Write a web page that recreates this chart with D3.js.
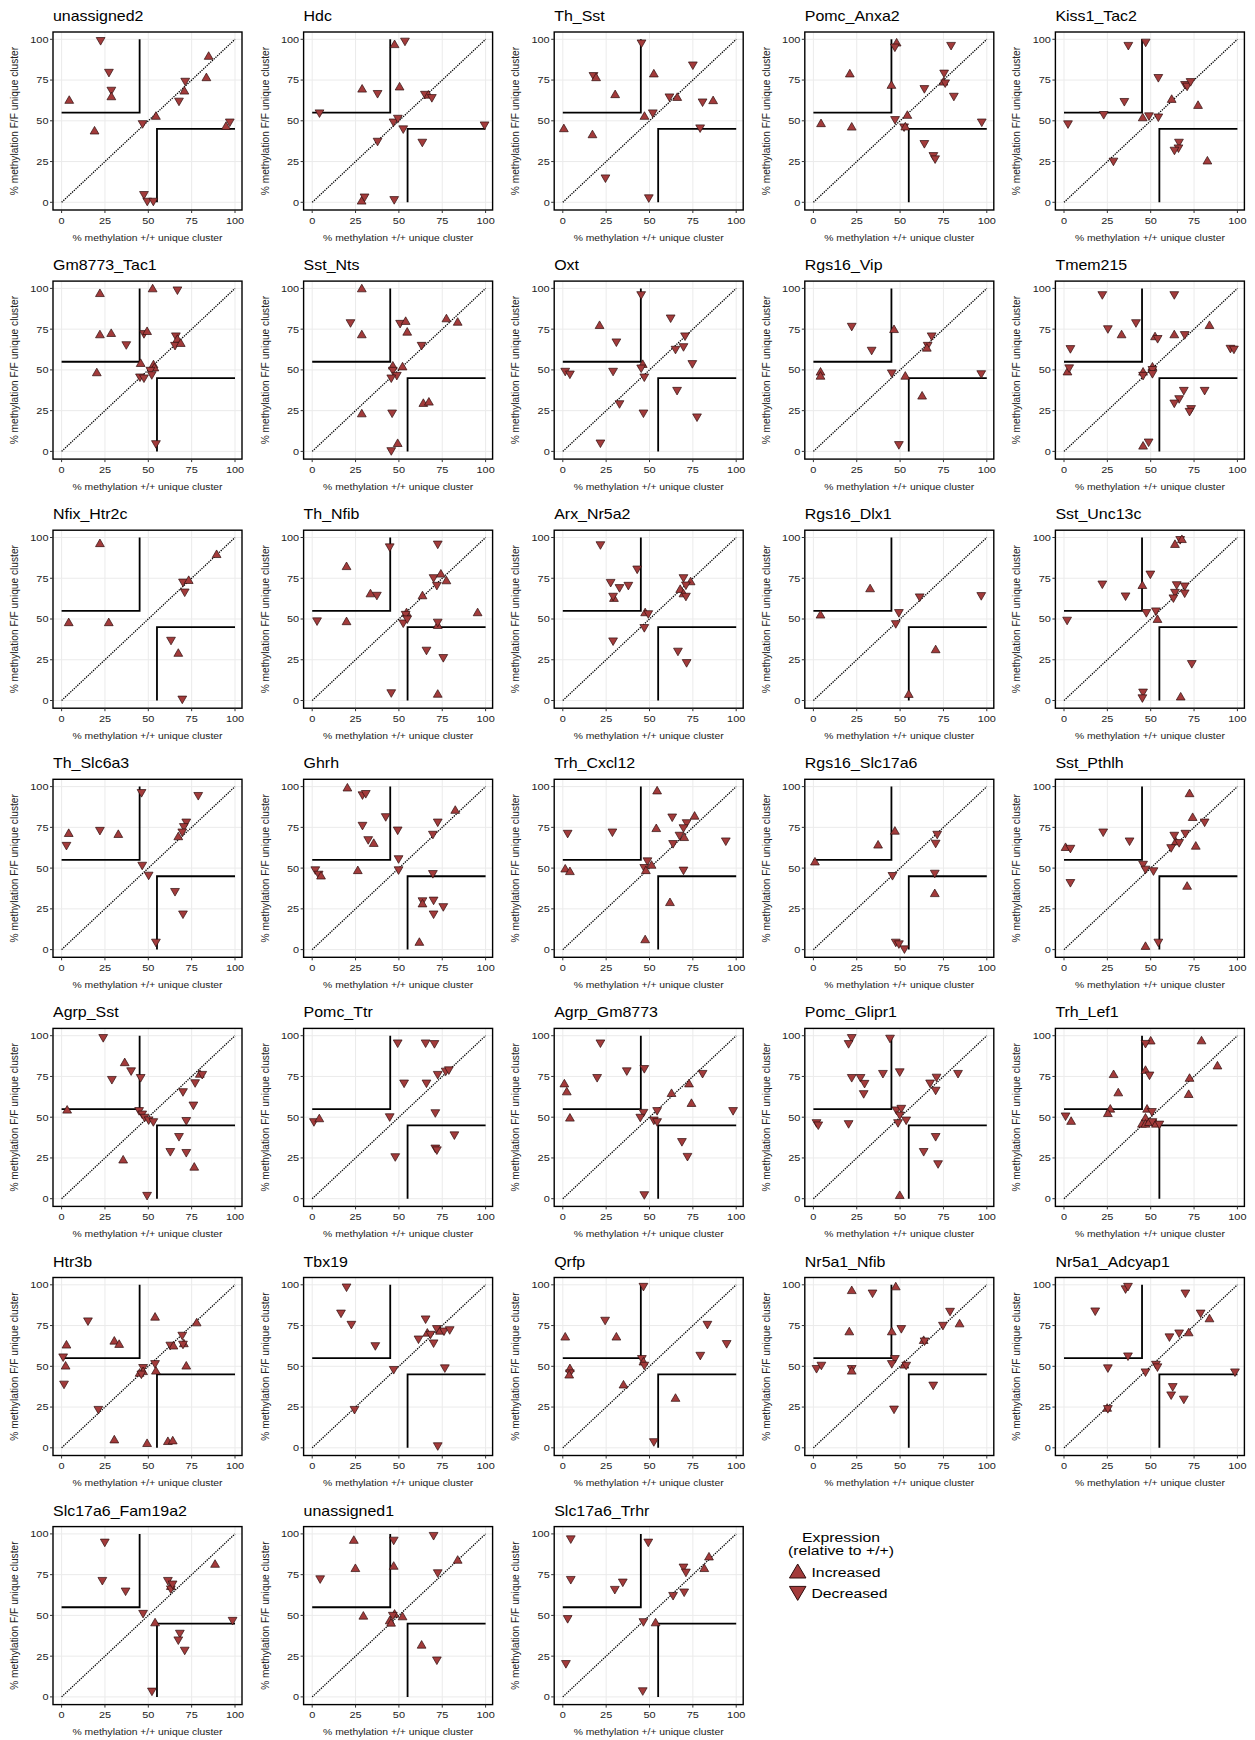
<!DOCTYPE html>
<html><head><meta charset="utf-8">
<script src="https://cdn.jsdelivr.net/npm/d3@7"></script>
<style>
body{margin:0;background:#fff}
svg{display:block}
text{font-family:"Liberation Sans",Arial,Helvetica,sans-serif}
</style>
</head><body>
<svg id="chart" width="1255" height="1740"></svg>
<script>
// ---------- data (x = % methylation +/+, y = % methylation F/F, dir: I = increased, D = decreased) ----------
const panelNames = ["unassigned2","Hdc","Th_Sst","Pomc_Anxa2","Kiss1_Tac2",
  "Gm8773_Tac1","Sst_Nts","Oxt","Rgs16_Vip","Tmem215",
  "Nfix_Htr2c","Th_Nfib","Arx_Nr5a2","Rgs16_Dlx1","Sst_Unc13c",
  "Th_Slc6a3","Ghrh","Trh_Cxcl12","Rgs16_Slc17a6","Sst_Pthlh",
  "Agrp_Sst","Pomc_Ttr","Agrp_Gm8773","Pomc_Glipr1","Trh_Lef1",
  "Htr3b","Tbx19","Qrfp","Nr5a1_Nfib","Nr5a1_Adcyap1",
  "Slc17a6_Fam19a2","unassigned1","Slc17a6_Trhr"];

const unassigned2 = [[22.5,99,"D"],[27.3,79.5,"D"],[28.7,68.5,"D"],[28.7,65,"I"],[4.4,62.8,"I"],[19,44,"I"],[46.7,48,"D"],[54.4,53,"I"],[71.3,74,"D"],[70.8,68.5,"I"],[67.7,61.8,"D"],[84.8,89.8,"I"],[83.5,76.7,"I"],[94.8,46.8,"I"],[97,49,"D"],[47.5,4.5,"D"],[49.4,0.4,"D"],[52.9,0.4,"D"]];
const Hdc = [[47.5,97,"I"],[53.5,98.6,"D"],[28.8,69.7,"I"],[37.7,66.5,"D"],[50.4,71,"I"],[4.2,54.6,"D"],[46.9,49,"D"],[49.4,51.3,"D"],[52.5,44.8,"D"],[37.7,37.2,"D"],[63.5,36.6,"D"],[65,66,"D"],[67,66,"I"],[69,64,"D"],[99.4,47.2,"D"],[28.5,1,"I"],[30.2,3,"D"],[47.3,1.4,"D"]];
const Th_Sst = [[45.4,97.5,"D"],[17.7,77.5,"D"],[19.2,76.7,"I"],[52.5,79,"I"],[75,84,"D"],[30.2,66.3,"I"],[61.5,64.4,"D"],[66,64.6,"I"],[80.6,61.3,"D"],[86.7,62.6,"I"],[47.1,53,"I"],[51.9,54.6,"D"],[0.6,45.4,"I"],[17.1,41.7,"I"],[79.2,45.4,"D"],[24.6,14.7,"D"],[49.6,2.5,"D"]];
const Pomc_Anxa2 = [[48,98,"I"],[47,95,"D"],[79.4,96,"D"],[21,79,"I"],[75.4,79,"D"],[75,74,"I"],[76,73,"D"],[45,72,"I"],[64,69.5,"D"],[81,64.8,"D"],[4.4,48.5,"I"],[22.1,46.4,"I"],[47.1,50.5,"D"],[54.2,53.6,"I"],[52.3,46,"D"],[53,46.5,"I"],[97.1,49,"D"],[64,35.8,"D"],[69.2,28.4,"D"],[70.2,26.4,"D"]];
const Kiss1_Tac2 = [[47.1,98,"D"],[37.1,96,"D"],[54.4,76.3,"D"],[34.8,61.6,"D"],[69.8,72,"D"],[71,71,"D"],[73,73.8,"D"],[62.1,63.4,"I"],[77.3,59.7,"I"],[22.9,53.6,"D"],[2.3,47.9,"D"],[45.4,52.1,"I"],[49,52.8,"D"],[54.4,52.1,"D"],[66.3,36.6,"D"],[66,33.1,"D"],[63.7,31.7,"D"],[28.5,25,"D"],[82.7,25.6,"I"]];
const Gm8773_Tac1 = [[22.1,97.1,"I"],[52.5,100,"I"],[66.8,98.8,"D"],[22.1,71.8,"I"],[28.6,72.6,"I"],[37.3,65.2,"D"],[47.5,72,"D"],[49.3,73.8,"I"],[65.9,70.6,"D"],[66.8,69,"I"],[65.4,64.8,"D"],[68.7,66.5,"I"],[20.3,48.5,"I"],[45.6,54.2,"I"],[45.2,45.4,"D"],[47.5,44.8,"D"],[53,53.4,"I"],[53.5,51.5,"I"],[51.2,49.5,"D"],[52,46.8,"D"],[54.4,4.5,"D"]];
const Sst_Nts = [[28.6,100,"I"],[22.1,78.7,"D"],[28.6,71.8,"I"],[50.7,78.3,"D"],[53.9,80,"I"],[54.8,73.4,"I"],[77.4,81.6,"I"],[83.9,79.5,"I"],[63.1,64.8,"D"],[46.5,52.6,"I"],[52.1,52.1,"I"],[46.5,49.5,"D"],[48.8,46.4,"D"],[45.6,44.8,"D"],[28.6,23.3,"I"],[46.1,23.3,"D"],[64.1,29.7,"I"],[67.3,30.5,"I"],[45.6,0.2,"D"],[49.3,5.1,"I"]];
const Oxt = [[45.2,95.9,"D"],[21.2,77.5,"I"],[30.9,66.9,"D"],[62.2,81.6,"D"],[70.5,70.6,"D"],[69.6,64,"D"],[65,62.4,"D"],[74.7,53.6,"D"],[46.1,53.6,"I"],[45.2,50.9,"D"],[47,45.4,"D"],[1.4,48.9,"D"],[4.1,47.2,"D"],[29,48.9,"D"],[32.7,29,"D"],[46.5,23.3,"D"],[65.9,37.2,"D"],[77.4,20.9,"D"],[21.7,4.9,"D"]];
const Rgs16_Vip = [[22.1,76.5,"D"],[46.5,75,"I"],[33.6,61.8,"D"],[68.2,70.6,"D"],[65.9,64.8,"D"],[65.4,63.6,"I"],[4.1,48.9,"I"],[4.1,46.4,"I"],[45.2,47.9,"D"],[53,46.4,"I"],[62.7,34.2,"I"],[96.8,47.4,"D"],[49.3,3.9,"D"]];
const Tmem215 = [[22.1,95.9,"D"],[63.6,95.9,"D"],[25.3,75,"D"],[33.2,71.8,"I"],[41.5,78.7,"D"],[63.6,71.8,"I"],[52.5,70.6,"I"],[54,69,"D"],[69.6,71.4,"D"],[83.9,77.5,"I"],[3.7,62.8,"D"],[96,63,"D"],[98,62.5,"D"],[2,49,"I"],[3,51,"D"],[51,52,"I"],[51,50,"D"],[51,47.5,"D"],[45.6,48.9,"I"],[45.6,46.4,"D"],[69.1,37.2,"D"],[81.1,37.2,"D"],[66.4,32.1,"D"],[63.6,29.4,"D"],[73.3,26,"D"],[72.4,24.3,"D"],[45.6,3.5,"I"],[48.8,5.5,"D"]];
const Nfix_Htr2c = [[22.1,96.5,"I"],[89.4,89.8,"I"],[70,72.4,"D"],[73.3,73.9,"I"],[71,66.3,"D"],[4.1,48,"I"],[27.2,48,"I"],[63.1,36.7,"D"],[67.3,29.2,"I"],[69.6,0.6,"D"]];
const Th_Nfib = [[44.7,94,"D"],[72.4,95.7,"D"],[19.8,82.4,"I"],[33.6,65.7,"I"],[37.3,64.3,"D"],[63.6,64.5,"I"],[70,75.1,"D"],[74.2,77.8,"I"],[77.4,73.7,"I"],[71.9,70.4,"D"],[2.8,48.6,"D"],[19.8,48.6,"I"],[54.4,54.1,"I"],[53.9,52.6,"D"],[52.5,47.3,"D"],[54.8,49.8,"D"],[95.4,54.1,"I"],[72.4,46.3,"I"],[72.4,47.8,"D"],[65.9,30.6,"D"],[75.6,26.1,"D"],[45.6,4.5,"D"],[72.4,4.1,"I"]];
const Arx_Nr5a2 = [[21.7,95.3,"D"],[42.9,80.4,"D"],[27.6,72.2,"D"],[32.7,69,"D"],[37.8,70.4,"D"],[29.5,62.9,"I"],[29,63.7,"D"],[69.6,75.1,"D"],[73.7,73.1,"I"],[71,70.6,"D"],[67.7,68.4,"I"],[69.6,65.7,"I"],[71,63.7,"D"],[47.5,54.1,"I"],[49.3,53,"D"],[47,44.5,"D"],[29,36.3,"D"],[66.4,30,"D"],[71.4,23,"D"]];
const Rgs16_Dlx1 = [[32.7,68.8,"I"],[4.1,52.7,"I"],[49.3,53.7,"D"],[47.5,46.9,"D"],[61.3,63.3,"D"],[96.8,64.1,"D"],[70.5,31.4,"I"],[55,4,"I"]];
const Sst_Unc13c = [[64,96,"I"],[67,98.5,"D"],[68,99,"I"],[22.1,71.2,"D"],[35.5,63.9,"D"],[49.8,77.3,"D"],[45.2,70.8,"I"],[65,70.8,"D"],[69.6,70,"D"],[69.6,65.7,"D"],[64,66.1,"D"],[63.1,62.7,"D"],[47.5,53.7,"D"],[53,54.7,"D"],[53.9,50,"I"],[1.8,49,"D"],[73.7,22.4,"D"],[45.6,4.9,"D"],[45.2,1.4,"D"],[67.3,2.4,"I"]];
const Th_Slc6a3 = [[46.1,96.1,"D"],[78.8,94.3,"D"],[4.1,71.5,"I"],[22.1,72.9,"D"],[32.7,70.9,"I"],[2.8,63.7,"D"],[71.9,78,"D"],[70.5,75.2,"D"],[69.6,71.9,"D"],[67.3,69.5,"I"],[46.5,51.5,"D"],[50.2,45.4,"D"],[65.4,35.4,"D"],[70,21.6,"D"],[54.4,4.3,"D"]];
const Ghrh = [[20.3,99.4,"I"],[29,94.7,"D"],[30.9,95.5,"D"],[42.4,81.3,"D"],[82.5,85.7,"I"],[29,76,"D"],[49.3,73.1,"D"],[72.4,78,"D"],[69.6,70.5,"D"],[32.3,67.2,"D"],[35.5,65.4,"I"],[49.8,55.5,"D"],[49.8,48.7,"D"],[1.8,48.7,"D"],[3.7,46,"D"],[5.1,45.4,"I"],[26.3,48.7,"I"],[69.6,46.4,"D"],[63.6,29.7,"D"],[63.6,28.3,"I"],[70,30.1,"D"],[75.6,26.1,"D"],[70,21.6,"D"],[61.8,4.7,"I"]];
const Trh_Cxcl12 = [[54.4,97.6,"I"],[2.8,71.1,"D"],[28.6,71.9,"D"],[63.1,81.1,"D"],[76,82.1,"I"],[53.9,74.5,"I"],[71.4,77.6,"D"],[69.6,74.5,"D"],[67.3,69.9,"D"],[70,69,"I"],[63.6,64.8,"D"],[94,66.4,"D"],[1.4,49.7,"I"],[4.1,48.1,"I"],[48.8,54.2,"D"],[51.2,52,"I"],[47,50.1,"D"],[47.9,48.7,"I"],[69.6,48.5,"D"],[61.8,29.1,"I"],[47.5,6.3,"I"]];
const Rgs16_Slc17a6 = [[0.9,54,"I"],[37.3,64.4,"I"],[47,72.9,"I"],[45.6,45.2,"D"],[71.4,70.5,"D"],[70.5,65,"D"],[70,46.6,"D"],[70,34.6,"I"],[47.5,4.3,"D"],[49.3,3.3,"D"],[52.5,0.2,"D"]];
const Sst_Pthlh = [[72.4,95.9,"I"],[74.2,81.3,"I"],[81.1,78,"D"],[76,63.7,"I"],[22.6,71.9,"D"],[37.8,66.4,"D"],[70,71.1,"D"],[63.6,69.9,"D"],[64.5,66.4,"I"],[66.4,65.4,"D"],[61.8,62.3,"D"],[0.9,62.9,"I"],[3.7,61.9,"D"],[3.7,40.9,"D"],[45.6,52.1,"D"],[47,49.1,"D"],[51.6,48.1,"D"],[71,39.1,"I"],[47,2.2,"I"],[54.4,4.3,"D"]];
const Agrp_Sst = [[24,98.6,"D"],[36.4,83.7,"I"],[40.1,78.2,"D"],[29,72.9,"D"],[45.6,74.1,"D"],[3.2,54.6,"I"],[44.7,53.8,"D"],[46.5,51.7,"D"],[47.9,49.7,"D"],[50.2,48.1,"D"],[52.9,47,"D"],[79.7,76.6,"I"],[81.1,76,"D"],[77,70.9,"D"],[70,65.4,"D"],[76,57.2,"D"],[71.9,47.7,"D"],[35.5,24,"I"],[67.7,37.9,"D"],[62.7,28.7,"D"],[71.9,28.1,"D"],[76.5,19.6,"I"],[49.3,1.8,"D"]];
const Pomc_Ttr = [[49.3,95.3,"D"],[65.4,95.3,"D"],[70.5,94.9,"D"],[53,70.7,"D"],[65.9,70.7,"D"],[72.4,76,"D"],[77,78,"D"],[78.8,78.8,"D"],[1,47,"D"],[4.1,49.3,"I"],[44.7,50,"D"],[71,52.5,"D"],[47.9,25.5,"D"],[71,30.8,"D"],[71.9,29.7,"D"],[82,38.9,"D"]];
const Agrp_Gm8773 = [[21.7,95.3,"D"],[0.9,70.7,"I"],[2.3,65.8,"I"],[19.8,74.1,"D"],[36.9,78.2,"D"],[47,79.6,"D"],[80.6,76.6,"D"],[72.8,70.7,"I"],[62.7,64.8,"I"],[74.2,58.7,"I"],[4.1,49.7,"I"],[46.5,52.7,"D"],[44.7,49.7,"D"],[54.4,53.8,"D"],[52.5,48,"D"],[54.4,47,"D"],[98.2,53.8,"D"],[68.7,34.8,"D"],[71.9,25.7,"D"],[47,2.2,"D"]];
const Pomc_Glipr1 = [[22.1,98.6,"D"],[20.3,94.9,"D"],[44.2,98.2,"D"],[22.1,74.1,"D"],[27.2,74.1,"D"],[29.5,70.5,"D"],[40.1,76.6,"D"],[49.8,77.6,"D"],[29,64.2,"D"],[67.3,70.7,"D"],[71,74.3,"D"],[70.5,66.3,"D"],[83.4,76.6,"D"],[1.8,46.4,"D"],[2.8,45,"D"],[20.3,45.8,"D"],[47.9,54.2,"D"],[50.7,55.2,"D"],[49.8,51.1,"D"],[48.8,46.4,"D"],[53.5,48,"D"],[70.5,37.9,"D"],[63.6,28.7,"D"],[71.9,21.2,"D"],[49.8,2.2,"I"]];
const Trh_Lef1 = [[50,97,"I"],[47,95,"D"],[79.3,97.1,"I"],[28.6,76.4,"I"],[47,79,"I"],[49.3,75.6,"D"],[88.5,81.7,"I"],[72.4,74.1,"I"],[31.3,65.2,"I"],[71.9,64.2,"I"],[26.7,55.2,"I"],[25.3,52.5,"I"],[0.9,50.5,"D"],[4.1,47.7,"I"],[47.9,55.2,"I"],[50.7,53.2,"D"],[47,49.7,"I"],[45,46,"I"],[47,46,"I"],[49,47,"I"],[51,47,"D"],[53,46,"I"],[55,45.5,"D"]];
const Htr3b = [[15.2,77.6,"D"],[53.9,80.4,"I"],[77.9,76.9,"I"],[2.8,63.3,"I"],[0.9,55.5,"D"],[2.3,50.4,"I"],[1.4,38.8,"D"],[30.4,65.7,"I"],[33.2,63.7,"I"],[62.7,62.7,"D"],[64.5,62.7,"I"],[69.6,68.8,"D"],[70.5,64.1,"I"],[70,63.3,"D"],[71.9,50.4,"I"],[47,49,"D"],[47,47,"I"],[45,46,"I"],[46,45,"D"],[53.9,51.4,"D"],[54.4,47.3,"I"],[21.2,23.3,"D"],[30.4,5.1,"I"],[49.3,2.9,"I"],[61.3,4.1,"I"],[64.1,4.5,"I"]];
const Tbx19 = [[19.8,98.4,"D"],[16.6,82.4,"D"],[22.6,75.5,"D"],[36.4,62.4,"D"],[65.4,78.8,"D"],[66.4,70.6,"I"],[68.2,69.4,"D"],[70,64.1,"D"],[71.9,72.9,"D"],[73.7,71.8,"I"],[76,71.4,"D"],[79.3,72.2,"D"],[61.3,66.5,"D"],[47,47.8,"D"],[76.5,48.8,"D"],[24.4,23.3,"D"],[72.4,1,"D"]];
const Qrfp = [[46.5,98.8,"D"],[1.4,68.2,"I"],[24.4,78,"D"],[30.9,68.2,"I"],[83.4,75.5,"D"],[94.5,63.7,"D"],[79.3,56.5,"D"],[45.6,54.5,"D"],[46.5,52.9,"I"],[47,50.4,"D"],[4.1,48.8,"I"],[4.1,45.7,"D"],[3.7,44.9,"I"],[35,38.8,"I"],[65,30.6,"I"],[52.5,3.5,"D"]];
const Nr5a1_Nfib = [[47.5,99,"I"],[22.1,96.7,"I"],[34.1,94.7,"D"],[20.7,71.4,"I"],[45.2,71.4,"I"],[50.7,72.9,"D"],[78.8,83.5,"D"],[84.3,76.3,"I"],[74.7,74.9,"D"],[63.6,66.1,"I"],[64.1,65.3,"D"],[1.8,48.4,"D"],[4.6,50.4,"D"],[22.1,48.4,"D"],[22.1,47.3,"I"],[47,54.5,"D"],[45.2,51.4,"D"],[52.5,51,"I"],[53.5,50.4,"D"],[69.1,38.2,"D"],[46.5,23.5,"D"]];
const Nr5a1_Adcyap1 = [[35.5,97.3,"D"],[36.9,98.8,"D"],[18,83.7,"D"],[70,94.7,"D"],[78.8,82.4,"D"],[83.9,79.4,"I"],[71.9,70.8,"I"],[66.4,70.2,"D"],[60.8,67.8,"D"],[36.9,56.1,"D"],[25.3,48.8,"D"],[47,46.3,"D"],[53,51,"D"],[53.9,49.4,"D"],[98.6,46.3,"D"],[62.7,37.3,"D"],[61.8,32.2,"D"],[69.1,29.6,"D"],[24.9,24.5,"I"],[25.3,23.8,"D"]];
const Slc17a6_Fam19a2 = [[24.9,94.7,"D"],[23.5,71.2,"D"],[36.9,64.7,"D"],[88.5,81.6,"I"],[61.3,71.2,"D"],[63,68,"I"],[63,66,"D"],[64,69,"D"],[47,51,"D"],[53.9,45.7,"I"],[98.6,46.7,"D"],[68.2,38.8,"D"],[67.3,34.7,"D"],[71,28.4,"D"],[52.1,3.3,"D"]];
const unassigned1 = [[24,96.3,"I"],[47,95.9,"D"],[70,98.8,"D"],[24.9,79,"I"],[47,80.4,"I"],[4.6,72.2,"D"],[83.9,84.1,"I"],[72.4,75.9,"D"],[29.5,49.8,"I"],[47.5,51,"I"],[46.5,49.8,"D"],[44.7,46.9,"I"],[45.5,45.5,"I"],[52.1,49.4,"I"],[63.1,32,"I"],[71.9,22.4,"D"]];
const Slc17a6_Trhr = [[4.6,96.7,"D"],[49.3,94.7,"D"],[4.6,71.8,"D"],[34.6,70.2,"D"],[30,65.7,"D"],[84.3,86.1,"I"],[81.6,79,"I"],[69.6,79.4,"D"],[71,76.3,"D"],[70,64.1,"D"],[63.6,62,"D"],[2.8,47.8,"D"],[46.5,45.9,"D"],[53.5,45.7,"I"],[1.8,20.2,"D"],[46.1,3.5,"D"]];

const panelData = [unassigned2,Hdc,Th_Sst,Pomc_Anxa2,Kiss1_Tac2,
  Gm8773_Tac1,Sst_Nts,Oxt,Rgs16_Vip,Tmem215,
  Nfix_Htr2c,Th_Nfib,Arx_Nr5a2,Rgs16_Dlx1,Sst_Unc13c,
  Th_Slc6a3,Ghrh,Trh_Cxcl12,Rgs16_Slc17a6,Sst_Pthlh,
  Agrp_Sst,Pomc_Ttr,Agrp_Gm8773,Pomc_Glipr1,Trh_Lef1,
  Htr3b,Tbx19,Qrfp,Nr5a1_Nfib,Nr5a1_Adcyap1,
  Slc17a6_Fam19a2,unassigned1,Slc17a6_Trhr];

const tickValues = [0,25,50,75,100];
const diagLine = [[0,0],[100,100]];
const upperBox = [[0,55],[45,55],[45,100]];
const lowerBox = [[55,0],[55,45],[100,45]];
const xTitle = "% methylation +/+ unique cluster";
const yTitle = "% methylation F/F unique cluster";
const legendTitle = ["Expression","(relative to +/+)"];
const legendKeys = ["I","D"];
const legendLabels = ["Increased","Decreased"];

// ---------- layout ----------
const svg = d3.select("#chart");
const ncol = 5, colPitch = 250.6, rowPitch = 249.1;
const pLeft = 53, pTop = 32, pW = 189, pH = 178;
const SX = 1.14; // horizontal text stretch of the original figure
const fill = "#a33b3b", stroke = "#2e0e0e";

const x = d3.scaleLinear().domain([0,100]).range([8.6, 182]);
const y = d3.scaleLinear().domain([0,100]).range([170.3, 7.3]);

function stext(g, px, py, str, size, anchor, sx, color){
  return g.append("text")
    .attr("transform", `translate(${px},${py}) scale(${sx},1)`)
    .attr("text-anchor", anchor)
    .attr("font-size", size)
    .attr("fill", color || "#000")
    .text(str);
}
function tri(dir, w, h){
  const t = -h*0.55, b = h*0.45;
  return dir === "I"
    ? `M0,${t}L${w/2},${b}L${-w/2},${b}Z`
    : `M0,${-t}L${w/2},${-b}L${-w/2},${-b}Z`;
}
const line = d3.line().x(d => x(d[0])).y(d => y(d[1]));

panelNames.forEach((name, i) => {
  const col = i % ncol, row = Math.floor(i / ncol);
  const cell = svg.append("g").attr("transform", `translate(${col*colPitch},${row*rowPitch})`);
  stext(cell, pLeft, 21, name, 14, "start", SX, "#000");
  const g = cell.append("g").attr("transform", `translate(${pLeft},${pTop})`);
  g.append("g").selectAll("line.gx").data(tickValues).join("line")
    .attr("x1", d => x(d)).attr("x2", d => x(d)).attr("y1", 0).attr("y2", pH)
    .attr("stroke", "#ebebeb").attr("stroke-width", 1);
  g.append("g").selectAll("line.gy").data(tickValues).join("line")
    .attr("y1", d => y(d)).attr("y2", d => y(d)).attr("x1", 0).attr("x2", pW)
    .attr("stroke", "#ebebeb").attr("stroke-width", 1);
  g.append("path").attr("d", line(diagLine)).attr("fill", "none")
    .attr("stroke", "#000").attr("stroke-width", 1.3).attr("stroke-dasharray", "1.3,1.1");
  [upperBox, lowerBox].forEach(b => {
    g.append("path").attr("d", line(b)).attr("fill", "none")
      .attr("stroke", "#000").attr("stroke-width", 1.8);
  });
  g.append("g").selectAll("path").data(panelData[i]).join("path")
    .attr("transform", d => `translate(${x(d[0])},${y(d[1])})`)
    .attr("d", d => tri(d[2], 8.8, 7.6))
    .attr("fill", fill).attr("stroke", stroke).attr("stroke-width", 0.7);
  g.append("rect").attr("x", 0).attr("y", 0).attr("width", pW).attr("height", pH)
    .attr("fill", "none").attr("stroke", "#000").attr("stroke-width", 1.4);
  g.append("g").selectAll("line").data(tickValues).join("line")
    .attr("x1", d => x(d)).attr("x2", d => x(d)).attr("y1", pH).attr("y2", pH + 3)
    .attr("stroke", "#333").attr("stroke-width", 1);
  g.append("g").selectAll("line").data(tickValues).join("line")
    .attr("y1", d => y(d)).attr("y2", d => y(d)).attr("x1", 0).attr("x2", -3)
    .attr("stroke", "#333").attr("stroke-width", 1);
  tickValues.forEach(v => {
    stext(g, x(v), pH + 13.5, String(v), 9.5, "middle", 1.15, "#222");
    stext(g, -4.5, y(v) + 3.4, String(v), 9.5, "end", 1.15, "#222");
  });
  stext(g, pW/2, pH + 30.5, xTitle, 9, "middle", 1.15, "#222");
  g.append("text")
    .attr("transform", `translate(${-35},${pH/2}) rotate(-90)`)
    .attr("text-anchor", "middle").attr("font-size", 10.2).attr("fill", "#222")
    .text(yTitle);
});

// ---------- legend ----------
const lg = svg.append("g");
stext(lg, 841, 1541.5, legendTitle[0], 13.7, "middle", 1.15, "#000");
stext(lg, 841, 1555, legendTitle[1], 13.7, "middle", 1.15, "#000");
legendKeys.forEach((k, j) => {
  const cy = 1571.7 + j*21;
  lg.append("path").attr("transform", `translate(797.7,${cy})`)
    .attr("d", tri(k, 16.5, 14)).attr("fill", fill).attr("stroke", stroke).attr("stroke-width", 1);
  stext(lg, 811.5, cy + 5.3, legendLabels[j], 13.7, "start", 1.15, "#000");
});
</script>
</body></html>
